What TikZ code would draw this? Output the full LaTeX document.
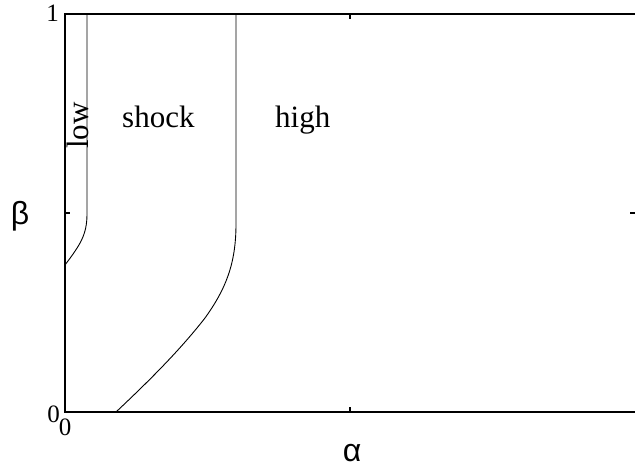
\documentclass[tikz,border=0pt]{standalone}
\usepackage{fontspec}
\setmainfont{Liberation Serif}
\newfontfamily\greekf{Liberation Sans}
\begin{document}
\begin{tikzpicture}[x=1pt,y=-1pt,
  axis/.style={line width=1.4pt},
  bnd/.style={line width=0.9pt},
  region/.style={inner sep=0pt,font=\fontsize{31}{36}\selectfont},
  ticklab/.style={inner sep=0pt,font=\fontsize{25}{30}\selectfont},
  greek/.style={inner sep=0pt,font=\greekf\fontsize{32}{38}\selectfont}]
\useasboundingbox (0,0) rectangle (635,470);
% axes
\coordinate (tl) at (65,14);
\coordinate (bl) at (65,412);
\coordinate (br) at (640,412);
\coordinate (tr) at (640,14);
\draw[axis] (tr) -- (tl) -- (bl) -- (br);
% ticks
\draw[axis] (65,213) -- (70,213);
\draw[axis] (350,412) -- (350,407);
\draw[axis] (350,14) -- (350,19);
\draw[axis] (635,213) -- (630,213);
% low boundary
\draw[bnd] (87,14) -- (87,214) .. controls (87,235) and (80,245) .. (65,265);
% shock boundary
\draw[bnd] (236,14) -- (236,224) .. controls (236,265) and (225,290) .. (205,318)
  .. controls (180,350) and (150,380) .. (116,412);
% region labels
\node[region,anchor=base west] (shock) at (122,128) {shock};
\node[region,anchor=base west] (high) at (275,128) {high};
\node[region,anchor=base west,rotate=90] (low) at (88,149) {low};
% tick labels
\node[ticklab,anchor=east] (y1) at (59,13) {1};
\node[ticklab,anchor=east] (y0) at (60,414) {0};
\node[ticklab,anchor=north] (x0) at (65,419) {0};
\node[ticklab,anchor=north] (x1) at (640,419) {1};
% axis labels
\node[greek] (beta) at (20,216) {β};
\node[greek,anchor=base] (alpha) at (352,461) {α};
\end{tikzpicture}
\end{document}
